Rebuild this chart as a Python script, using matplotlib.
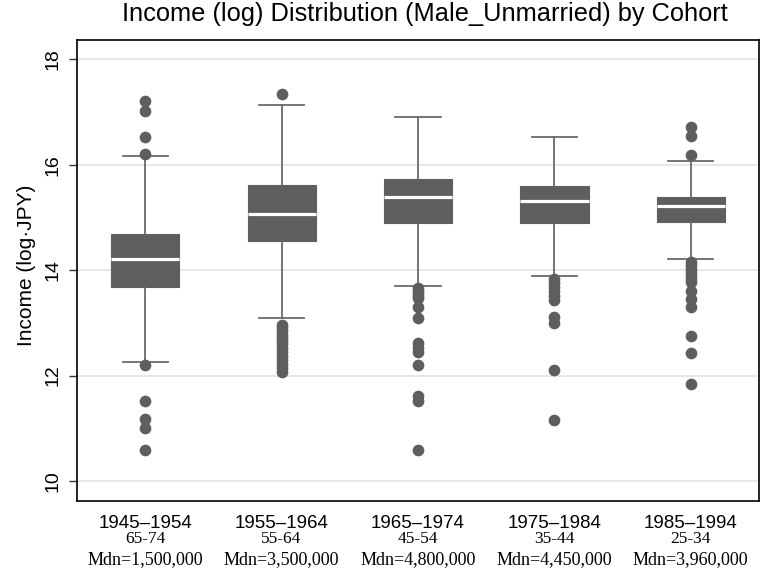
import matplotlib
matplotlib.use("Agg")
import matplotlib.pyplot as plt
from matplotlib.transforms import blended_transform_factory

# ---- data ----
cohorts = ["1945\u20131954", "1955\u20131964", "1965\u20131974", "1975\u20131984", "1985\u20131994"]
age_groups = ["65-74", "55-64", "45-54", "35-44", "25-34"]
median_labels = ["Mdn=1,500,000", "Mdn=3,500,000", "Mdn=4,800,000", "Mdn=4,450,000", "Mdn=3,960,000"]

q1 = [13.69, 14.55, 14.90, 14.90, 14.91]
med = [14.22, 15.06, 15.39, 15.31, 15.21]
q3 = [14.69, 15.62, 15.73, 15.60, 15.39]
whislo = [12.25, 13.09, 13.71, 13.90, 14.21]
whishi = [16.17, 17.13, 16.91, 16.52, 16.08]
outliers = [
    [17.21, 17.03, 16.52, 16.20, 12.20, 11.52, 11.17, 11.00, 10.59],
    [17.34, 12.96, 12.90, 12.84, 12.78, 12.72, 12.66, 12.60, 12.52, 12.45, 12.38, 12.30, 12.22, 12.15, 12.07],
    [13.66, 13.61, 13.56, 13.51, 13.47, 13.31, 13.10, 12.61, 12.53, 12.45, 12.21, 11.61, 11.52, 10.59],
    [13.83, 13.76, 13.68, 13.60, 13.52, 13.43, 13.12, 13.00, 12.10, 11.16],
    [16.71, 16.55, 16.19, 14.16, 14.10, 14.03, 13.96, 13.89, 13.83, 13.78, 13.61, 13.46, 13.31, 12.76, 12.42, 11.85],
]

title = "Income (log) Distribution (Male_Unmarried) by Cohort"
ylabel = "Income (log\u00b7JPY)"
yticks = [10, 12, 14, 16, 18]

# ---- plot ----
W, H = 764, 573
fig = plt.figure(figsize=(W / 100, H / 100), dpi=100)
ax = fig.add_axes([77 / W, (H - 501) / H, (759 - 77) / W, (501 - 40) / H])

stats = []
for i in range(len(cohorts)):
    stats.append(dict(q1=q1[i], med=med[i], q3=q3[i], whislo=whislo[i],
                      whishi=whishi[i], fliers=outliers[i], label=cohorts[i]))

gray = "#5e5e5e"
positions = list(range(1, len(cohorts) + 1))
ax.bxp(stats, positions=positions, widths=0.5, capwidths=0.33,
       patch_artist=True, showfliers=True, zorder=3,
       boxprops=dict(facecolor=gray, edgecolor=gray, linewidth=0.8),
       medianprops=dict(color="white", linewidth=2.3, solid_capstyle="butt"),
       whiskerprops=dict(color="#6a6a6a", linewidth=1.3),
       capprops=dict(color="#6a6a6a", linewidth=1.3),
       flierprops=dict(marker="o", markersize=7.4, markerfacecolor=gray,
                       markeredgecolor=gray, linestyle="none"))

ax.set_xlim(0.5, 5.5)
ax.set_ylim(9.62, 18.37)
ax.set_yticks(yticks)
ax.set_yticklabels([str(t) for t in yticks], rotation=90, va="center",
                   fontsize=14, family="Liberation Sans")
ax.tick_params(axis="y", length=6, width=1, color="#333333", pad=5)
ax.set_xticks([])
ax.grid(axis="y", color="#e3e3e3", linewidth=1.2, zorder=0)
ax.set_axisbelow(True)
for s in ax.spines.values():
    s.set_color("black")
    s.set_linewidth(1.2)

ax.set_ylabel(ylabel, fontsize=15, family=["Liberation Sans", "DejaVu Sans"])
ax.yaxis.set_label_coords(36 / W, (H - 265) / H, transform=fig.transFigure)

fig.text(425 / W, 1 - 21 / H, title, ha="center", va="baseline",
         fontsize=18.3, family="Liberation Sans")

tr = blended_transform_factory(ax.transData, fig.transFigure)
for i, p in enumerate(positions):
    ax.text(p, 1 - 527.5 / H, cohorts[i], transform=tr, ha="center", va="baseline",
            fontsize=13.5, family="Liberation Sans")
    ax.text(p, 1 - 543 / H, age_groups[i], transform=tr, ha="center", va="baseline",
            fontsize=12.5, family="Liberation Serif")
    ax.text(p, 1 - 564 / H, median_labels[i], transform=tr, ha="center", va="baseline",
            fontsize=13, family="Liberation Serif")

fig.savefig("out.png", dpi=100)
